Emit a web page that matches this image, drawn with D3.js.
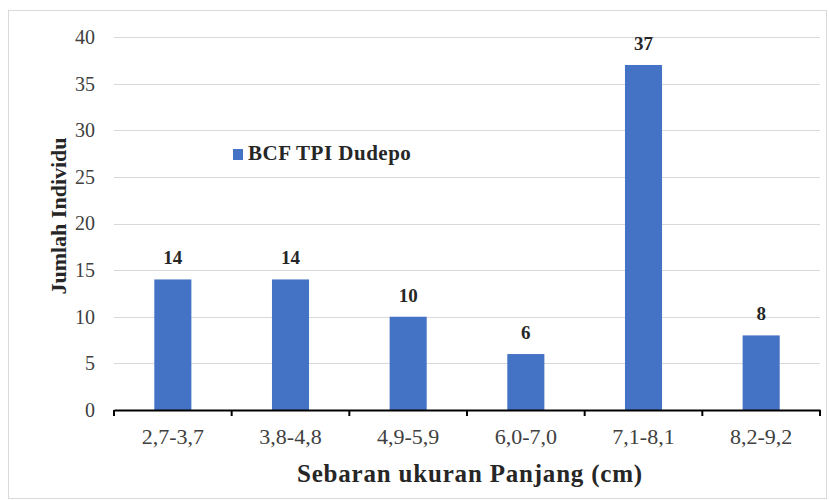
<!DOCTYPE html>
<html>
<head>
<meta charset="utf-8">
<script src="https://cdn.jsdelivr.net/npm/d3@7"></script>
<style>
  body { margin: 0; background: #fff; }
  svg text { font-family: "Liberation Serif", "Times New Roman", serif; }
</style>
</head>
<body>
<div id="chart"></div>
<script>
// data
const categories = ['2,7-3,7', '3,8-4,8', '4,9-5,9', '6,0-7,0', '7,1-8,1', '8,2-9,2']
const counts = [14, 14, 10, 6, 37, 8]
const yTicks = [0, 5, 10, 15, 20, 25, 30, 35, 40]
const seriesName = 'BCF TPI Dudepo'

const width = 829
const height = 501
const plotLeft = 114, plotRight = 820, plotTop = 37, plotBottom = 410

let svg = d3.select('#chart')
            .append('svg')
            .attr('width', width)
            .attr('height', height)

// outer frame
svg.append('rect')
   .attr('x', 8.5).attr('y', 10.5)
   .attr('width', 818).attr('height', 488)
   .attr('fill', '#fff')
   .attr('stroke', '#d9d9d9')

let xScale = d3.scaleBand()
               .domain(categories)
               .range([plotLeft, plotRight])
               .paddingInner(0.685)
               .paddingOuter(0.3425)

let xTicks = d3.scaleBand().domain(categories).range([plotLeft, plotRight])

let yScale = d3.scaleLinear()
               .domain([0, 40])
               .range([plotBottom, plotTop])

// gridlines
svg.append('g')
   .selectAll('line')
   .data(yTicks.filter(d => d > 0))
   .enter()
   .append('line')
   .attr('x1', plotLeft).attr('x2', plotRight)
   .attr('y1', d => Math.round(yScale(d)) + 0.5)
   .attr('y2', d => Math.round(yScale(d)) + 0.5)
   .attr('stroke', '#d9d9d9')
   .attr('stroke-width', 1)

// y axis labels
let yAxis = d3.axisLeft(yScale).tickValues(yTicks).tickSize(0).tickPadding(19)
let yG = svg.append('g')
   .attr('transform', `translate(${plotLeft},0)`)
   .call(yAxis)
yG.select('.domain').remove()
yG.selectAll('text')
  .attr('font-size', 20)
  .attr('fill', '#404040')
  .style('font-family', '"Liberation Serif", serif')

// bars
svg.selectAll('.bar')
   .data(counts)
   .enter()
   .append('rect')
   .attr('class', 'bar')
   .attr('x', (d, i) => xScale(categories[i]))
   .attr('y', d => yScale(d))
   .attr('width', xScale.bandwidth())
   .attr('height', d => plotBottom - yScale(d))
   .attr('fill', '#4472c4')

// value labels
svg.selectAll('.val')
   .data(counts)
   .enter()
   .append('text')
   .attr('class', 'val')
   .attr('x', (d, i) => xScale(categories[i]) + xScale.bandwidth() / 2)
   .attr('y', d => yScale(d) - 15)
   .attr('text-anchor', 'middle')
   .attr('font-size', 19)
   .attr('font-weight', 'bold')
   .attr('fill', '#262626')
   .text(d => d)

// x axis
let xAxis = d3.axisBottom(xTicks).tickSize(0).tickPadding(18)
let xG = svg.append('g')
   .attr('transform', `translate(0,${plotBottom})`)
   .call(xAxis)
xG.select('.domain')
  .attr('stroke', '#000')
  .attr('stroke-width', 2)
xG.selectAll('text')
  .attr('font-size', 22)
  .attr('fill', '#404040')
  .style('font-family', '"Liberation Serif", serif')

// boundary tick marks
xG.selectAll('.bound')
  .data(d3.range(categories.length + 1))
  .enter()
  .append('line')
  .attr('x1', i => plotLeft + i * xTicks.step())
  .attr('x2', i => plotLeft + i * xTicks.step())
  .attr('y1', 0).attr('y2', 6)
  .attr('stroke', '#000')
  .attr('stroke-width', 2)

// axis titles
svg.append('text')
   .attr('x', 470)
   .attr('y', 482)
   .attr('text-anchor', 'middle')
   .attr('font-size', 25)
   .attr('font-weight', 'bold')
   .attr('letter-spacing', 0.8)
   .attr('fill', '#262626')
   .text('Sebaran ukuran Panjang (cm)')

svg.append('text')
   .attr('transform', 'translate(66,216) rotate(-90)')
   .attr('text-anchor', 'middle')
   .attr('font-size', 22)
   .attr('font-weight', 'bold')
   .attr('fill', '#262626')
   .text('Jumlah Individu')

// legend
svg.append('rect')
   .attr('x', 233).attr('y', 149)
   .attr('width', 10).attr('height', 11)
   .attr('fill', '#4472c4')
svg.append('text')
   .attr('x', 248).attr('y', 160)
   .attr('font-size', 21)
   .attr('font-weight', 'bold')
   .attr('letter-spacing', 0.5)
   .attr('fill', '#262626')
   .text(seriesName)
</script>
</body>
</html>
